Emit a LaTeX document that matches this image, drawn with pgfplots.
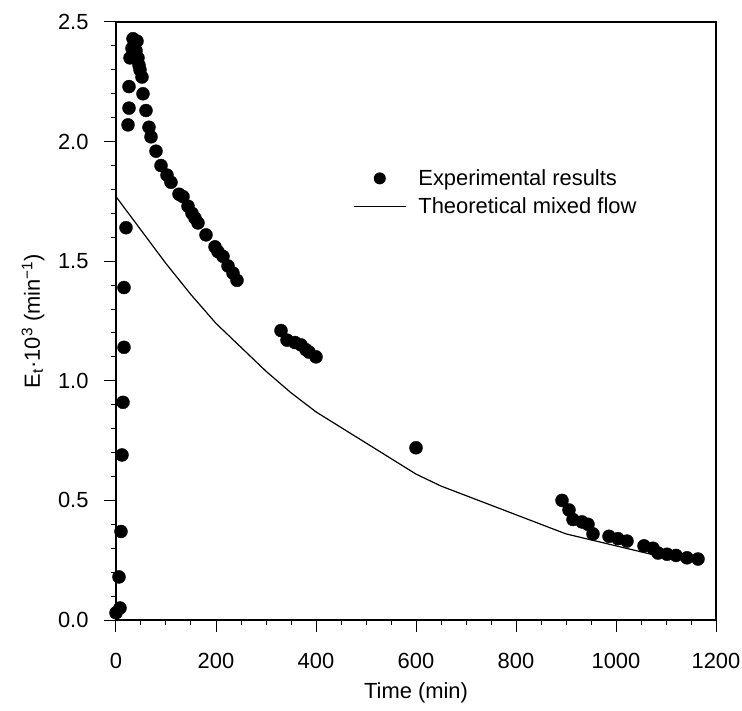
\documentclass[border=0pt]{standalone}
\usepackage{fontspec}
\setmainfont{Liberation Sans}
\usepackage{pgfplots}
\pgfplotsset{compat=1.18}

\begin{document}
\begin{tikzpicture}
\useasboundingbox (-116bp,-91bp) rectangle (626bp,620bp);
\begin{axis}[
  at={(0,0)}, anchor=south west,
  scale only axis, width=600bp, height=598bp,
  xmin=0, xmax=1200, ymin=0, ymax=2.5,
  xtick={0,200,...,1200}, ytick={0,0.5,...,2.5},
  minor x tick num=3, minor y tick num=4,
  tick pos=left, tick align=outside,
  major tick length=12bp, minor tick length=5bp,
  every tick/.style={black, line width=1bp},
  axis line style={line width=1.5bp},
  clip=false,
  /pgf/number format/assume math mode=true,
  /pgf/number format/1000 sep={},
  xticklabel style={yshift=-18bp},
  yticklabel style={xshift=-12bp, /pgf/number format/.cd, fixed, fixed zerofill, precision=1},
  tick label style={font=\fontsize{22}{26}\selectfont},
  label style={font=\fontsize{22}{26}\selectfont},
  xlabel={Time (min)},
  ylabel={E\textsubscript{t}·10\textsuperscript{3} (min\textsuperscript{−1})},
  x label style={at={(axis description cs:0.5,0)}, anchor=center, yshift=-73bp},
  y label style={at={(axis description cs:0,0.5)}, anchor=center, yshift=83bp},
  legend style={draw=none, fill=none, at={(axis cs:468,1.90)}, anchor=north west,
    font=\fontsize{22}{26}\selectfont, legend cell align=left,
    column sep=10bp, row sep=7bp},
]
\addplot[only marks, mark=*, mark size=6.5bp, black,
  legend image code/.code={\path[draw=none] (0bp,0bp) -- (52bp,0bp); \fill[draw=none] (26bp,0bp) circle (6bp);}]
  coordinates {
  (0,0.03)(8,0.05)(6,0.18)(10,0.37)(12,0.69)(14,0.91)(16,1.14)(16,1.39)
  (20,1.64)(24,2.07)(26,2.14)(26,2.23)
  (34,2.43)(42,2.42)(32,2.39)(40,2.38)(28,2.35)(44,2.35)(46,2.32)(48,2.30)(52,2.27)
  (54,2.20)(60,2.13)(66,2.06)(70,2.02)(80,1.96)(90,1.90)(102,1.86)(110,1.83)
  (126,1.78)(134,1.77)(144,1.73)(152,1.70)(158,1.68)(164,1.66)(180,1.61)
  (198,1.56)(204,1.54)(214,1.52)(224,1.48)(234,1.45)(242,1.42)
  (330,1.21)(342,1.17)(358,1.16)(370,1.15)(380,1.13)(386,1.12)(400,1.10)
  (600,0.72)
  (892,0.50)(906,0.46)(914,0.42)(932,0.41)(944,0.40)(954,0.36)
  (986,0.35)(1004,0.34)(1022,0.33)(1056,0.31)(1074,0.30)(1084,0.28)
  (1102,0.275)(1120,0.27)(1142,0.26)(1164,0.255)
  };
\addlegendentry{Experimental results}
\addplot[black, line width=1.2bp, mark=none,
  legend image code/.code={\draw[line width=1.2bp] (0bp,0bp) -- (52bp,0bp);}]
  coordinates {
  (0,1.77)(50,1.63)(100,1.49)(150,1.36)(200,1.24)(250,1.14)(300,1.04)
  (350,0.95)(400,0.87)(600,0.61)(650,0.56)(900,0.36)(1000,0.31)(1100,0.26)(1170,0.24)
  };
\addlegendentry{Theoretical mixed flow}
\end{axis}
\end{tikzpicture}
\end{document}
